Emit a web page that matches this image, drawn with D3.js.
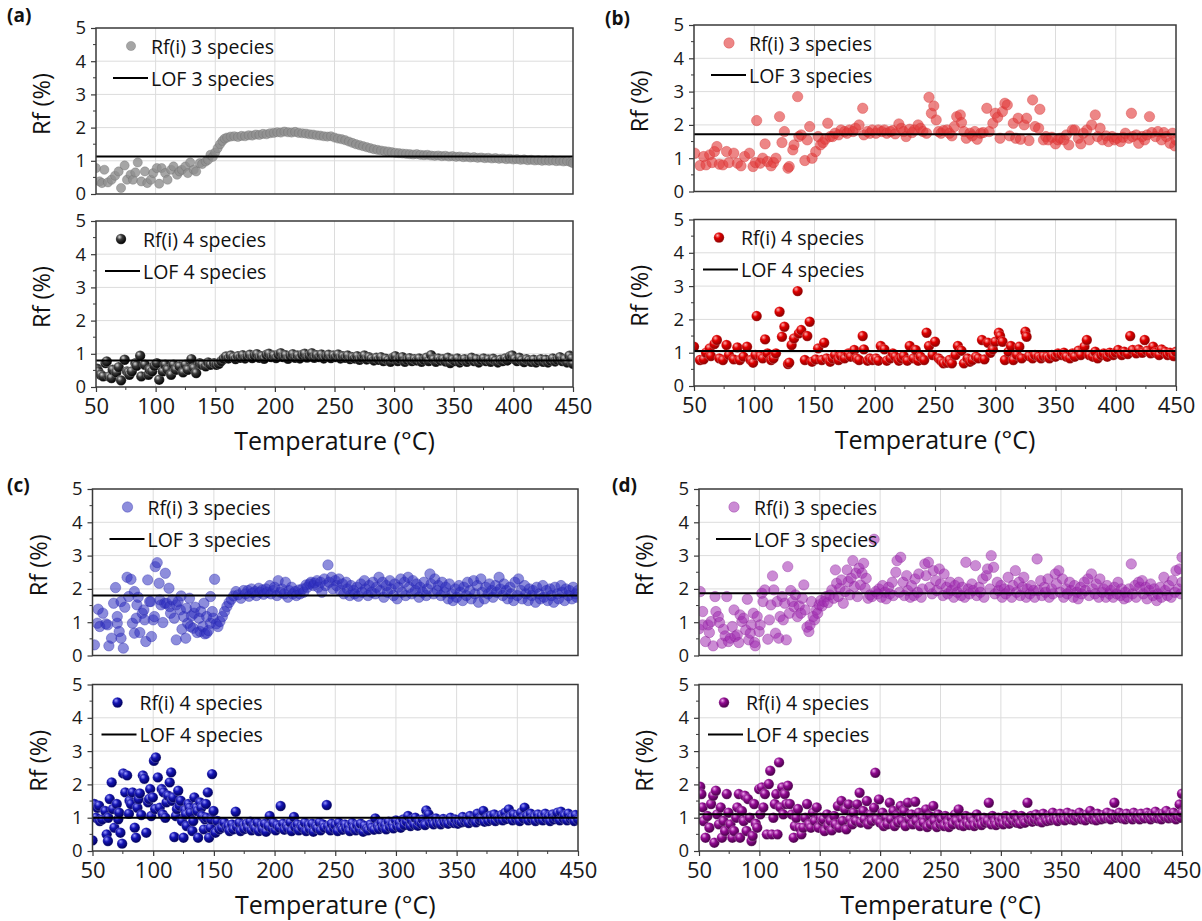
<!DOCTYPE html>
<html><head><meta charset="utf-8">
<script src="https://cdn.jsdelivr.net/npm/d3@7"></script>
<style>
body{margin:0;background:#fff;}
svg{display:block;font-family:"Open Sans",sans-serif;}
</style></head>
<body><svg id="chart" width="1202" height="921"></svg>
<script>
// ---------------- DATA ----------------
const xTicks = [50,100,150,200,250,300,350,400,450];
const xMinor = [75,125,175,225,275,325,375,425];
const yTicks = [0,1,2,3,4,5];
const yMinor = [0.5,1.5,2.5,3.5,4.5];
const panelLabels = ["(a)","(b)","(c)","(d)"];
const speciesLabels = ["3 species","4 species"];
// LOF values [3 species, 4 species] per panel
const lofA = [1.13, 0.80];
const lofB = [1.72, 1.05];
const lofC = [1.80, 1.00];
const lofD = [1.87, 1.10];

// Panel (a) 3 species
const a3 = [[50,0.78],[53,0.38],[55,0.33],[57,0.73],[60,0.35],[63,0.43],[66,0.55],[69,0.68],[71,0.18],[74,0.86],[76,0.43],[79,0.58],[81,0.43],[83,0.65],[85,0.95],[88,0.38],[91,0.68],[93,0.33],[96,0.43],[98,0.63],[101,0.78],[103,0.31],[105,0.78],[108,0.63],[110,0.43],[113,0.73],[115,0.83],[118,0.58],[120,0.68],[122,0.73],[125,0.83],[127,0.63],[129,0.95],[132,0.73],[134,0.68],[137,0.93],[139,0.9],[142,0.98],[144,1.03],[146,1.18],[148,1.12],[150,1.25],[152,1.38],[154,1.5],[156,1.6],[158,1.67],[160,1.7],[163,1.73],[166,1.74],[169,1.72],[172,1.75],[175,1.74],[178,1.77],[181,1.76],[184,1.79],[187,1.78],[190,1.81],[193,1.8],[196,1.83],[199,1.84],[202,1.86],[205,1.85],[208,1.88],[211,1.86],[214,1.85],[217,1.87],[220,1.84],[223,1.83],[226,1.82],[229,1.8],[232,1.79],[235,1.77],[238,1.76],[241,1.74],[244,1.73],[247,1.74],[250,1.7],[253,1.67],[256,1.65],[259,1.62],[262,1.58],[265,1.54],[268,1.5],[271,1.47],[274,1.44],[277,1.41],[280,1.38],[283,1.35],[286,1.33],[289,1.31],[292,1.29],[295,1.28],[298,1.26],[301,1.24],[304,1.23],[307,1.22],[310,1.21],[313,1.2],[316,1.19],[319,1.2],[322,1.18],[325,1.17],[328,1.18],[331,1.16],[334,1.15],[337,1.16],[340,1.14],[343,1.15],[346,1.13],[349,1.14],[352,1.12],[355,1.13],[358,1.11],[361,1.12],[364,1.1],[367,1.11],[370,1.09],[373,1.1],[376,1.08],[379,1.09],[382,1.07],[385,1.08],[388,1.06],[391,1.07],[394,1.05],[397,1.06],[400,1.04],[403,1.05],[406,1.03],[409,1.04],[412,1.02],[415,1.03],[418,1.01],[421,1.02],[424,1.0],[427,1.01],[430,1.0],[433,1.01],[436,0.99],[439,1.0],[442,0.98],[445,0.99],[448,0.96],[450,0.93]];

// Panel (a) 4 species
const a4 = [[51,0.55],[52,0.47],[54,0.37],[56,0.32],[58,0.72],[59,0.77],[61,0.32],[63,0.27],[64,0.52],[67,0.44],[69,0.6],[71,0.2],[74,0.82],[76,0.47],[77,0.44],[78,0.37],[80,0.47],[83,0.72],[84,0.64],[87,0.94],[88,0.32],[91,0.67],[94,0.37],[95,0.52],[97,0.47],[99,0.64],[101,0.72],[103,0.22],[106,0.47],[108,0.67],[110,0.52],[113,0.37],[115,0.67],[117,0.52],[120,0.62],[123,0.44],[125,0.67],[127,0.52],[130,0.84],[132,0.57],[134,0.42],[137,0.72],[139,0.67],[142,0.62],[144,0.74],[146,0.67],[149,0.72],[151,0.67],[153,0.7],[155,0.78],[157,0.85],[159,0.92],[161,0.86],[163,0.95],[165,0.9],[167,0.84],[169,0.93],[171,0.88],[173,0.96],[175,0.86],[177,0.92],[179,0.97],[181,0.87],[183,0.95],[185,0.99],[187,0.88],[189,0.93],[191,0.85],[193,0.97],[195,1.0],[197,0.9],[199,0.95],[201,0.87],[203,0.98],[205,1.02],[207,0.9],[209,0.96],[211,0.85],[213,0.94],[215,0.99],[217,0.88],[219,0.95],[221,0.86],[223,0.97],[225,1.0],[227,0.89],[229,0.94],[231,1.02],[233,0.88],[235,0.96],[237,0.9],[239,0.98],[241,0.86],[243,0.93],[245,0.97],[247,0.87],[249,0.95],[251,0.9],[253,0.98],[255,0.86],[257,0.93],[259,0.88],[261,0.95],[263,0.84],[265,0.9],[267,0.86],[269,0.93],[271,0.82],[273,0.88],[275,0.95],[277,0.83],[279,0.9],[281,0.85],[283,0.8],[285,0.88],[287,0.82],[289,0.9],[291,0.78],[293,0.85],[295,0.8],[297,0.76],[299,0.88],[301,0.93],[303,0.78],[305,0.85],[307,0.9],[309,0.76],[311,0.82],[313,0.87],[315,0.78],[317,0.84],[319,0.8],[321,0.86],[323,0.76],[325,0.82],[327,0.88],[329,0.78],[331,0.96],[333,0.83],[335,0.76],[337,0.86],[339,0.8],[341,0.84],[343,0.77],[345,0.88],[347,0.72],[349,0.83],[351,0.78],[353,0.86],[355,0.74],[357,0.8],[359,0.84],[361,0.76],[363,0.82],[365,0.88],[367,0.78],[369,0.84],[371,0.74],[373,0.82],[375,0.86],[377,0.78],[379,0.83],[381,0.76],[383,0.85],[385,0.79],[387,0.74],[389,0.82],[391,0.78],[393,0.86],[395,0.8],[397,0.92],[399,0.95],[401,0.84],[403,0.78],[405,0.88],[407,0.8],[409,0.75],[411,0.84],[413,0.8],[415,0.76],[417,0.82],[419,0.74],[421,0.8],[423,0.84],[425,0.76],[427,0.82],[429,0.74],[431,0.8],[433,0.86],[435,0.77],[437,0.82],[439,0.9],[441,0.78],[443,0.84],[445,0.74],[447,0.94],[449,0.86],[450,0.7]];

// Panel (b) 3 species
const b3 = [[50.6,1.15],[55,0.78],[58,1.05],[60,0.8],[63,1.1],[65,0.87],[67,1.2],[69,1.35],[71,0.82],[74,0.8],[77,1.2],[79,0.87],[83,1.15],[86,0.85],[89,0.77],[92,1.05],[96,1.15],[99,0.75],[101,0.87],[102,2.13],[105,0.85],[107,1.0],[109,1.43],[111,0.9],[114,0.77],[116,0.87],[118,1.0],[121,2.25],[123,1.47],[125,1.8],[128,0.7],[129,0.75],[132,1.25],[133,1.4],[136,2.85],[137,1.65],[139,1.7],[142,0.93],[144,1.55],[146,1.95],[148,1.0],[151,1.2],[153,1.65],[155,1.4],[157,1.47],[159,1.57],[161,2.05],[163,1.65],[165,1.65],[167,1.75],[170,1.7],[172,1.85],[175,1.8],[177,1.75],[179,1.85],[182,1.8],[184,1.9],[187,2.0],[190,2.5],[191,1.7],[194,1.8],[196,1.75],[198,1.85],[201,1.75],[203,1.85],[206,1.8],[208,1.85],[210,1.75],[213,1.8],[215,1.83],[217,1.73],[220,2.03],[222,1.9],[224,1.8],[226,1.65],[229,1.87],[231,1.77],[233,1.85],[236,2.0],[238,1.9],[240,1.8],[243,1.75],[245,2.83],[247,2.35],[249,2.57],[251,2.15],[253,1.8],[255,1.75],[257,1.83],[260,1.85],[262,1.75],[264,1.67],[266,1.95],[268,2.25],[271,2.3],[272,2.07],[274,1.8],[276,1.6],[279,1.75],[281,1.67],[283,1.8],[285,1.57],[288,1.75],[290,1.77],[293,2.5],[295,1.8],[298,2.05],[300,2.35],[302,2.23],[304,1.6],[306,2.4],[308,2.65],[310,2.6],[312,1.67],[315,2.05],[317,1.6],[319,2.2],[321,1.57],[324,2.0],[326,2.2],[328,1.53],[331,2.75],[333,1.95],[336,1.9],[337,2.47],[340,1.55],[342,1.65],[344,1.55],[347,1.63],[350,1.43],[352,1.55],[354,1.6],[357,1.55],[359,1.7],[361,1.4],[364,1.85],[366,1.85],[369,1.6],[371,1.43],[373,1.75],[376,1.85],[378,1.55],[380,2.0],[383,2.3],[385,1.65],[387,1.9],[389,1.55],[392,1.67],[394,1.5],[397,1.65],[399,1.55],[401,1.6],[404,1.5],[406,1.63],[408,1.75],[411,1.6],[413,2.35],[414,1.65],[417,1.7],[419,1.45],[422,1.65],[424,1.55],[426,1.7],[428,2.25],[430,1.77],[433,1.65],[435,1.8],[438,1.55],[440,1.77],[442,1.65],[445,1.45],[447,1.75],[449,1.37],[450,1.55]];

// Panel (b) 4 species
const b4 = [[50,1.18],[55,0.78],[58,0.8],[60,1.0],[63,1.13],[64,0.9],[67,1.26],[69,1.38],[71,0.83],[74,0.78],[77,1.23],[79,0.93],[83,0.8],[86,1.16],[88,0.78],[91,0.88],[94,1.18],[97,0.78],[99,0.7],[101,0.93],[102,2.1],[105,0.9],[107,0.83],[109,1.4],[111,0.98],[114,0.78],[116,0.83],[118,0.98],[121,2.23],[123,1.48],[125,1.78],[128,0.66],[129,0.7],[131,1.23],[133,1.43],[136,2.85],[137,1.58],[139,1.68],[142,0.78],[144,1.5],[146,1.93],[148,0.73],[151,0.8],[153,1.13],[156,0.78],[158,1.3],[160,0.83],[163,0.73],[165,0.83],[167,0.93],[170,0.78],[172,0.9],[175,0.83],[178,0.98],[180,0.88],[183,1.08],[185,0.83],[187,0.78],[190,1.5],[191,1.1],[194,0.76],[196,0.83],[198,0.78],[201,0.83],[203,0.76],[205,1.2],[208,1.1],[210,0.76],[213,0.83],[215,0.98],[217,0.88],[220,0.76],[222,0.83],[224,0.9],[227,0.76],[229,1.2],[232,0.83],[234,1.08],[236,0.76],[238,0.88],[241,0.78],[243,1.6],[245,1.2],[248,0.93],[250,1.33],[253,0.83],[255,0.76],[257,0.68],[260,0.7],[262,0.78],[264,0.68],[267,0.93],[269,1.2],[272,1.06],[274,0.68],[277,0.83],[279,0.73],[281,0.78],[284,0.88],[286,0.83],[289,1.38],[291,0.8],[294,1.3],[296,1.0],[298,1.1],[300,1.33],[303,1.6],[304,1.5],[306,1.33],[308,0.78],[311,1.03],[313,1.2],[315,0.78],[318,0.93],[320,1.18],[322,0.83],[325,1.63],[326,1.48],[328,0.9],[331,0.83],[333,0.93],[336,0.88],[338,0.83],[340,0.9],[343,0.88],[345,0.83],[347,0.93],[350,0.88],[352,0.98],[355,0.93],[357,1.0],[359,0.88],[362,0.83],[364,0.98],[366,0.88],[369,1.06],[371,0.93],[374,1.18],[376,1.38],[378,0.93],[381,0.88],[383,1.03],[385,0.83],[388,0.93],[390,0.98],[393,0.88],[395,1.0],[398,0.93],[400,1.0],[402,1.08],[405,0.93],[407,1.03],[410,0.96],[412,1.5],[414,1.08],[417,0.98],[419,1.1],[422,1.0],[424,1.38],[426,1.06],[429,0.98],[431,1.18],[433,1.0],[436,0.93],[438,1.1],[441,1.03],[443,0.93],[445,1.0],[448,0.9],[450,1.03]];

// Panel (c) 3 species
const c3 = [[51.6,0.32],[54.7,1.39],[54,0.97],[56,0.87],[58.5,1.27],[61,0.95],[62.5,0.92],[63.5,0.29],[65.7,0.52],[67.4,1.57],[69,2.04],[70.4,1.17],[70.4,0.97],[72,0.72],[73.5,0.52],[73.5,1.62],[75.4,0.22],[76.6,1.45],[78.5,2.35],[79.8,1.77],[81.7,2.29],[82.9,0.97],[84.5,0.67],[84.5,1.92],[86,1.12],[86.6,1.52],[87.6,1.75],[89,0.69],[91,1.27],[92.3,1.37],[93,1.07],[93.9,0.42],[95.5,2.27],[97,1.62],[98,1.62],[98.6,0.57],[100,1.07],[101,1.17],[101.7,2.67],[103.3,2.79],[104.9,2.17],[105.5,1.67],[106.4,1.52],[108,0.99],[109.5,1.57],[110,2.47],[111.1,1.57],[113,2.02],[113.7,1.47],[114.3,1.27],[115.8,1.67],[117.4,1.12],[119,0.47],[119,1.52],[120.5,1.62],[122.4,1.37],[123,1.79],[123.7,0.79],[125.2,1.17],[126.8,0.52],[127.4,1.42],[128.4,0.97],[129.9,1.72],[130.6,0.87],[131.5,1.19],[133,0.82],[133.7,1.27],[134.6,1.45],[136.2,0.69],[137.8,1.12],[138.7,0.72],[139.3,1.32],[140.9,0.87],[141.8,1.57],[142.5,0.65],[144,1.17],[144,0.67],[145.6,0.75],[147.2,1.77],[147.2,0.97],[148.7,1.32],[149.4,1.12],[150.6,2.29],[152,0.95],[153.4,0.87],[155,1.02],[157,1.17],[158.8,1.32],[160.7,1.47],[162.5,1.59],[164.4,1.69],[166.3,1.79],[168.2,1.92],[170,1.82],[172.3,1.72],[174.5,1.95],[176,1.85],[178,1.95],[179,1.78],[181,2.0],[182,1.88],[184,1.92],[185,1.8],[187,2.02],[188,1.9],[190,1.97],[191,1.84],[193,2.0],[194,1.9],[196,2.1],[197,1.85],[199,1.95],[200,2.05],[202,1.8],[203,2.25],[205,1.9],[206,2.0],[208,1.85],[209,2.2],[211,1.75],[212,1.95],[214,2.05],[215,1.85],[217,1.92],[218,1.8],[220,1.97],[221,1.85],[223,2.0],[224,1.9],[226,2.12],[227,2.05],[229,2.15],[230,2.2],[232,2.1],[233,2.18],[235,2.25],[236,2.05],[238,2.2],[239,1.9],[241,2.3],[242,2.1],[244,2.72],[245,2.2],[247,2.35],[248,2.0],[250,2.25],[251,2.1],[253,2.3],[254,1.95],[256,2.15],[257,1.85],[259,2.2],[260,2.0],[262,1.8],[263,2.1],[265,1.95],[266,1.85],[268,2.05],[269,1.78],[271,2.15],[272,1.9],[274,2.25],[275,2.0],[277,1.8],[278,2.1],[280,1.9],[281,2.2],[283,1.85],[284,2.05],[286,2.35],[287,1.95],[289,2.2],[290,1.75],[292,2.1],[293,1.9],[295,2.25],[296,2.0],[298,1.8],[299,2.15],[301,1.7],[302,2.05],[304,2.3],[305,1.9],[307,2.2],[308,1.8],[310,2.35],[311,2.05],[313,1.85],[314,2.25],[316,1.95],[317,2.15],[319,1.75],[320,2.05],[322,1.9],[323,2.2],[325,1.8],[326,2.0],[328,2.45],[329,2.15],[331,1.85],[332,2.3],[334,1.95],[335,2.1],[337,1.8],[338,2.2],[340,1.9],[341,2.05],[343,1.7],[344,2.15],[346,1.85],[347,1.65],[349,2.0],[350,1.75],[352,2.1],[353,1.9],[355,1.65],[356,2.05],[358,1.8],[359,2.2],[361,1.95],[362,1.7],[364,2.25],[365,1.85],[367,2.1],[368,1.6],[370,2.3],[371,1.9],[373,1.7],[374,2.05],[376,1.85],[377,2.15],[379,1.95],[380,1.75],[382,2.1],[383,1.9],[385,2.35],[386,2.0],[388,1.8],[389,2.15],[391,1.95],[392,1.7],[394,2.05],[395,1.85],[397,1.65],[398,2.2],[400,1.8],[401,2.3],[403,1.95],[404,1.7],[406,2.1],[407,1.85],[409,1.65],[410,2.0],[412,1.8],[413,1.95],[415,1.6],[416,2.05],[418,1.85],[419,1.7],[421,2.1],[422,1.75],[424,1.95],[425,1.65],[427,2.0],[428,1.8],[430,1.6],[431,2.05],[433,1.85],[434,1.7],[436,2.1],[437,1.9],[439,1.65],[440,2.0],[442,1.8],[443,1.95],[445,1.7],[446,2.05],[448,1.85],[449,1.75],[450,1.95]];

// Panel (c) 4 species
const c4 = [[50,0.32],[51.6,1.41],[53,1.0],[54,1.3],[55.4,1.36],[56,0.9],[58,0.95],[60.5,1.2],[61.7,0.5],[62.7,0.3],[63,1.0],[64.2,1.56],[65.8,2.06],[66.8,1.26],[68,0.7],[70,1.41],[71.2,0.95],[72,1.15],[73,0.55],[74.4,0.22],[75.3,2.33],[77,1.76],[78.5,2.27],[80,1.12],[80.5,1.51],[81.7,1.41],[83,1.76],[84.8,0.7],[85.8,0.4],[87,1.3],[88,1.56],[89,1.73],[90.2,1.08],[91.5,2.27],[92.7,2.17],[94.3,0.55],[95.8,1.46],[96.6,1.56],[97.5,1.86],[98.4,1.05],[99.7,1.61],[100.6,2.71],[101.6,1.26],[102.2,2.81],[103.8,2.21],[105.4,1.3],[107,1.86],[107.9,1.1],[108.6,1.76],[110,1.0],[111,1.46],[112.3,1.66],[113.6,2.06],[114.8,2.36],[115.4,1.51],[116.4,1.61],[117.4,0.42],[118.7,1.05],[119.6,1.26],[120.6,1.81],[121.8,1.36],[122.7,1.51],[123.7,0.9],[125,0.4],[126.3,1.23],[127,1.1],[127.6,0.75],[129,1.41],[130,1.3],[130.7,1.15],[132.3,0.6],[133,0.9],[133.9,1.61],[135.5,1.3],[136.4,1.2],[137,0.4],[138.7,1.46],[139.6,1.3],[140.3,1.05],[141.8,0.65],[142.7,0.95],[143.4,1.41],[144,1.0],[145,1.76],[146,0.4],[147.2,0.7],[147.8,0.95],[148.5,2.31],[149.7,1.2],[151.3,0.55],[152.9,0.9],[154.5,0.65],[156.7,0.7],[158.6,0.85],[160.8,0.7],[162,0.75],[163,0.6],[165,0.8],[166,0.65],[168,1.18],[169,0.72],[171,0.85],[172,0.6],[174,0.78],[175,0.66],[177,0.82],[178,0.7],[180,0.88],[181,0.62],[183,0.76],[184,0.68],[186,0.85],[187,0.6],[189,0.78],[190,0.66],[192,0.82],[193,0.58],[195,0.75],[196,1.05],[198,0.68],[199,0.85],[201,0.62],[202,0.78],[204,0.7],[205,1.35],[207,0.82],[208,0.64],[210,0.76],[211,0.68],[213,0.86],[214,0.6],[216,1.02],[217,0.72],[219,0.8],[220,0.62],[222,0.76],[223,0.7],[225,0.85],[226,0.6],[228,0.78],[229,0.66],[231,0.82],[232,0.58],[234,0.75],[235,0.68],[237,0.86],[238,0.62],[240,0.8],[241,0.7],[243,1.38],[244,0.74],[246,0.62],[247,0.82],[249,0.68],[250,0.78],[252,0.6],[253,0.85],[255,0.7],[256,0.64],[258,0.8],[259,0.68],[261,0.75],[262,0.6],[264,0.84],[265,0.7],[267,0.62],[268,0.78],[270,0.66],[271,0.82],[273,0.58],[274,0.76],[276,0.68],[277,0.62],[279,0.8],[280,0.7],[282,0.64],[283,0.98],[285,0.75],[286,0.66],[288,0.85],[289,0.7],[291,0.78],[292,0.65],[294,0.88],[295,0.72],[297,0.8],[298,0.68],[300,0.92],[301,0.75],[303,0.85],[304,0.7],[306,0.95],[307,0.78],[309,0.88],[310,1.05],[312,0.75],[313,0.92],[315,0.8],[316,1.0],[318,0.76],[319,0.88],[321,0.82],[322,0.95],[324,0.78],[325,1.22],[327,1.1],[328,0.85],[330,0.92],[331,0.8],[333,0.98],[334,0.84],[336,0.9],[337,0.8],[339,0.96],[340,0.86],[342,0.92],[343,0.82],[345,1.0],[346,0.88],[348,0.84],[349,0.95],[351,0.82],[352,0.9],[354,0.86],[355,1.02],[357,0.88],[358,0.95],[360,0.84],[361,1.05],[363,0.9],[364,0.96],[366,0.86],[367,1.12],[369,0.92],[370,0.98],[372,1.2],[373,0.88],[375,1.0],[376,0.9],[378,1.06],[379,0.94],[381,1.1],[382,0.9],[384,1.0],[385,0.95],[387,1.08],[388,0.92],[390,1.15],[391,0.96],[393,1.25],[394,1.02],[396,0.92],[397,1.1],[399,0.95],[400,1.05],[402,0.9],[403,1.15],[405,0.98],[406,1.3],[408,1.05],[409,0.92],[411,1.12],[412,0.96],[414,1.02],[415,0.9],[417,1.1],[418,0.95],[420,1.05],[421,0.92],[423,1.12],[424,0.98],[426,1.04],[427,0.9],[429,1.1],[430,0.95],[432,1.0],[433,1.15],[435,0.92],[436,1.18],[438,0.98],[439,1.06],[441,0.92],[442,1.12],[444,0.96],[445,1.02],[447,0.9],[448,1.08],[450,0.95]];

// Panel (d) 3 species
const d3s = [[50,0.8],[51,1.92],[53,1.32],[53,0.92],[55.4,0.42],[57.6,0.92],[58.6,0.69],[60,1.02],[61.7,0.29],[63.3,1.77],[64,1.32],[66,1.17],[67,0.99],[69,0.37],[70.3,0.79],[71.6,0.59],[73,1.77],[74.4,0.42],[76,0.52],[77.6,0.87],[79,1.37],[79.8,0.57],[81.7,0.62],[83,0.39],[84,1.22],[85.5,1.02],[87,1.12],[88.7,0.77],[90,1.69],[91.2,0.47],[92.5,0.67],[93.4,0.92],[95,1.27],[96,0.39],[96.6,0.29],[98.2,1.17],[99.8,0.72],[100.7,0.92],[102,1.87],[103,1.62],[104.5,1.97],[107,0.49],[108.3,1.07],[109.6,1.52],[110.9,2.39],[112,1.97],[113.4,0.67],[114.7,1.62],[116,0.52],[117.2,1.17],[118.8,1.77],[119.8,1.07],[121,1.57],[122.3,0.47],[123.5,2.67],[124.8,1.27],[126,1.95],[127.3,1.62],[128.6,1.47],[129.9,1.82],[131.5,1.17],[133,1.49],[134.3,1.27],[135.6,1.72],[136.8,2.12],[138,1.37],[139.4,0.85],[141,0.72],[142,0.92],[143.2,1.62],[144.5,1.17],[145.7,1.07],[147.3,1.37],[148.3,1.27],[149.5,1.52],[150.8,1.65],[152,1.49],[153.6,1.62],[155.2,1.77],[156.8,1.59],[158.4,1.82],[160,1.97],[161.6,1.72],[163,2.57],[164,2.17],[165.4,1.77],[166.6,2.02],[168,2.27],[169.5,1.57],[171,1.92],[172.7,2.57],[173.6,2.22],[174.9,1.82],[176,2.32],[177.4,2.85],[178.7,2.07],[180,2.47],[181.2,1.77],[182.5,2.62],[183.8,2.12],[185,2.47],[186.3,2.77],[187.6,2.02],[188.5,2.32],[190,1.72],[191.7,1.82],[193.3,1.77],[195,3.49],[196.4,1.92],[198,1.85],[199,2.0],[201,1.75],[202,2.1],[204,1.9],[205,1.7],[207,2.05],[208,1.85],[210,2.2],[211,1.8],[213,2.5],[214,2.85],[216,1.9],[217,2.95],[219,2.2],[220,1.8],[222,2.4],[223,1.95],[225,1.75],[226,2.1],[228,1.8],[229,2.3],[231,1.9],[232,2.45],[234,1.75],[235,2.0],[237,2.75],[238,2.4],[240,2.8],[241,2.05],[243,1.85],[244,2.55],[246,2.25],[247,1.95],[249,2.6],[250,2.15],[252,1.8],[253,2.45],[255,2.05],[256,1.85],[258,2.2],[259,1.95],[261,1.75],[262,2.1],[264,1.9],[265,2.2],[267,1.8],[268,2.05],[270,1.75],[271,2.8],[273,2.0],[274,1.85],[276,2.15],[277,1.95],[279,2.7],[280,1.8],[282,2.05],[283,1.9],[285,2.3],[286,1.75],[288,2.4],[289,2.6],[291,2.0],[292,3.0],[294,2.65],[295,1.85],[297,2.2],[298,1.95],[300,2.1],[301,1.75],[303,2.0],[304,1.85],[306,2.35],[307,1.95],[309,1.75],[310,2.1],[312,2.55],[313,1.9],[315,2.2],[316,1.8],[318,2.05],[319,2.35],[321,1.75],[322,2.0],[324,1.85],[325,2.1],[327,1.95],[328,1.75],[330,2.9],[331,1.95],[333,2.25],[334,1.8],[336,2.05],[337,1.9],[339,2.3],[340,1.75],[342,2.0],[343,1.85],[345,2.45],[346,2.15],[348,2.55],[349,1.9],[351,2.3],[352,1.75],[354,2.0],[355,1.85],[357,2.2],[358,1.95],[360,1.75],[361,2.1],[363,1.9],[364,1.7],[366,2.05],[367,1.85],[369,2.2],[370,1.95],[372,2.3],[373,1.8],[375,2.45],[376,2.0],[378,1.85],[379,2.15],[381,1.75],[382,2.3],[384,1.9],[385,2.0],[387,1.75],[388,2.1],[390,1.85],[391,1.95],[393,1.75],[394,2.05],[396,1.85],[397,2.2],[399,1.8],[400,2.0],[402,1.7],[403,1.9],[405,1.75],[406,2.0],[408,2.75],[409,1.85],[411,2.1],[412,1.75],[414,2.2],[415,2.05],[417,2.25],[418,1.85],[420,2.05],[421,1.7],[423,1.95],[424,2.15],[426,1.8],[427,2.0],[429,1.65],[430,1.85],[432,2.05],[433,1.75],[435,2.35],[436,1.95],[438,1.8],[439,2.1],[441,1.75],[442,2.25],[444,1.9],[445,2.55],[447,2.0],[448,2.6],[449,1.85],[450,2.95],[450,2.2]];

// Panel (d) 4 species
const d4 = [[51,1.93],[52,1.71],[53,1.31],[53.8,0.9],[55.4,0.4],[57,1.05],[58.6,0.7],[60,1.41],[61.7,1.66],[62.7,0.25],[64,1.81],[65,1.1],[66.5,0.8],[68,1.31],[69,0.4],[70.3,0.9],[71.6,0.6],[73,1.71],[74.4,1.15],[76,0.8],[77.6,0.4],[79,0.6],[80.8,1.0],[81.7,1.31],[83,1.71],[84,0.4],[85.5,1.2],[87,0.9],[88,1.66],[89.4,0.6],[90.6,1.56],[92,1.0],[93.5,0.3],[94.4,0.45],[95.7,1.41],[97,0.82],[98.2,0.7],[99.8,1.86],[100.8,1.1],[102,1.91],[103.3,1.31],[104.6,1.71],[106.2,0.5],[107.8,2.01],[109,2.41],[110.3,0.5],[111.6,1.0],[112.8,1.41],[114,1.71],[115,0.5],[116.3,2.66],[117.3,1.31],[118.9,1.91],[119.8,1.1],[121,1.71],[122.3,1.41],[123.6,1.96],[125.2,1.41],[126.8,1.1],[128.4,0.4],[129.4,0.75],[130.6,1.0],[131.9,1.26],[133.2,0.7],[134.8,0.5],[136.3,0.7],[138,1.0],[139.5,1.41],[141.1,0.8],[142.7,0.7],[144.3,1.15],[145.9,0.9],[147.5,1.31],[149,0.7],[150.6,1.0],[152.2,0.9],[153,0.95],[154,0.6],[156,1.1],[157,0.75],[159,0.9],[160,0.62],[162,1.05],[163,0.8],[165,1.35],[166,0.7],[168,1.5],[169,0.9],[171,1.25],[172,0.65],[174,1.4],[175,0.95],[177,0.8],[178,1.15],[180,0.9],[181,1.4],[183,1.75],[184,0.85],[186,1.2],[187,0.95],[189,1.5],[190,0.8],[192,1.1],[193,0.9],[195,1.3],[196,2.35],[197,0.95],[199,1.55],[200,0.85],[202,1.15],[203,0.75],[205,1.0],[206,0.8],[208,1.45],[209,0.95],[211,1.2],[212,0.75],[214,1.05],[215,0.85],[217,1.35],[218,0.9],[220,1.2],[221,0.75],[223,1.45],[224,0.95],[226,1.1],[227,0.8],[229,1.48],[230,0.9],[232,1.15],[233,0.75],[235,1.0],[236,0.85],[238,1.25],[239,0.72],[241,1.05],[242,0.8],[244,1.35],[245,0.9],[247,0.72],[248,1.1],[250,0.8],[251,0.95],[253,0.75],[254,1.05],[256,0.85],[257,0.72],[259,1.0],[260,0.8],[262,1.1],[263,0.9],[265,1.25],[266,0.78],[268,0.95],[269,0.75],[271,1.05],[272,0.85],[274,0.78],[275,1.0],[277,0.9],[278,0.75],[280,1.1],[281,0.82],[283,0.95],[284,0.78],[286,1.0],[287,0.85],[289,0.9],[290,1.45],[292,0.8],[293,1.05],[295,0.88],[296,0.78],[298,1.0],[299,0.85],[301,0.95],[302,0.8],[304,1.05],[305,0.88],[307,0.82],[308,1.0],[310,0.9],[311,1.08],[313,0.85],[314,0.95],[316,0.82],[317,1.05],[319,0.9],[320,0.85],[322,1.45],[323,0.95],[325,1.05],[326,0.88],[328,0.95],[329,1.1],[331,0.9],[332,1.0],[334,0.86],[335,1.12],[337,0.95],[338,0.9],[340,1.05],[341,0.92],[343,1.15],[344,0.95],[346,1.0],[347,0.9],[349,1.12],[350,0.95],[352,1.05],[353,0.92],[355,1.15],[356,1.0],[358,0.95],[359,1.1],[361,0.92],[362,1.05],[364,0.98],[365,1.15],[367,0.95],[368,1.05],[370,0.92],[371,1.1],[373,1.0],[374,1.2],[376,0.95],[377,1.05],[379,0.92],[380,1.12],[382,1.0],[383,0.95],[385,1.08],[386,0.98],[388,1.15],[389,1.0],[391,0.95],[392,1.1],[394,1.45],[395,1.0],[397,1.05],[398,1.15],[400,0.98],[401,1.08],[403,0.95],[404,1.12],[406,1.0],[407,1.05],[409,0.95],[410,1.15],[412,1.0],[413,1.08],[415,0.95],[416,1.12],[418,1.02],[419,0.98],[421,1.15],[422,1.05],[424,0.95],[425,1.1],[427,1.0],[428,1.18],[430,0.98],[431,1.08],[433,0.95],[434,1.12],[436,1.02],[437,1.2],[439,0.98],[440,1.1],[442,1.0],[443,1.15],[445,0.95],[446,1.05],[448,1.4],[449,1.0],[450,1.72],[450,1.15]];

// ---------------- LAYOUT / STYLE ----------------
const styles = {
  a3:{type:"flat", fill:"#8e8e8e", op:0.8, stroke:"#6a6a6a", r:4.6},
  a4:{type:"ball", c0:"#d8d8d8", c1:"#3a3a3a", c2:"#000000", r:5.2},
  b3:{type:"flat", fill:"#e23c3c", op:0.62, stroke:"#d23030", r:5.2},
  b4:{type:"ball", c0:"#ffb0b0", c1:"#e00000", c2:"#8a0000", r:5.2},
  c3:{type:"flat", fill:"#3030c0", op:0.55, stroke:"#2626a8", r:5.2},
  c4:{type:"ball", c0:"#9a9aff", c1:"#1515b5", c2:"#00005a", r:5.2},
  d3:{type:"flat", fill:"#a02cb0", op:0.55, stroke:"#8a2098", r:5.2},
  d4:{type:"ball", c0:"#f0a8f0", c1:"#900a90", c2:"#480048", r:5.2}
};

const panels = [
  {label:panelLabels[0], lx:7, ly:22, left:96, right:573,
   plots:[{top:28,bottom:194,data:a3,lof:lofA[0],key:"a3"},{top:221,bottom:387,data:a4,lof:lofA[1],key:"a4"}]},
  {label:panelLabels[1], lx:605, ly:25, left:694, right:1176,
   plots:[{top:25,bottom:191.5,data:b3,lof:lofB[0],key:"b3"},{top:219.5,bottom:386,data:b4,lof:lofB[1],key:"b4"}]},
  {label:panelLabels[2], lx:7, ly:492, left:92.5, right:578,
   plots:[{top:489,bottom:655.5,data:c3,lof:lofC[0],key:"c3"},{top:684.5,bottom:851,data:c4,lof:lofC[1],key:"c4"}]},
  {label:panelLabels[3], lx:612, ly:492, left:699, right:1182,
   plots:[{top:489,bottom:655.5,data:d3s,lof:lofD[0],key:"d3"},{top:684.5,bottom:851,data:d4,lof:lofD[1],key:"d4"}]}
];

const svg = d3.select("#chart");
const defs = svg.append("defs");

// ball gradients
Object.entries(styles).forEach(([k,s])=>{
  if(s.type==="ball"){
    const g = defs.append("radialGradient").attr("id","grad-"+k)
      .attr("cx","38%").attr("cy","35%").attr("r","65%").attr("fx","35%").attr("fy","30%");
    g.append("stop").attr("offset","0%").attr("stop-color",s.c0);
    g.append("stop").attr("offset","40%").attr("stop-color",s.c1);
    g.append("stop").attr("offset","100%").attr("stop-color",s.c2);
  }
});

function styleDots(sel, s, key){
  if(s.type==="flat"){
    sel.attr("fill",s.fill).attr("fill-opacity",s.op)
       .attr("stroke",s.stroke).attr("stroke-opacity",0.5).attr("stroke-width",0.7);
  } else {
    sel.attr("fill","url(#grad-"+key+")").attr("stroke","#ffffff").attr("stroke-opacity",0.35).attr("stroke-width",0.6);
  }
}

panels.forEach((p,pi)=>{
  const g = svg.append("g");
  g.append("text").attr("x",p.lx).attr("y",p.ly).text(p.label)
    .attr("font-size",19).attr("font-weight","bold").attr("fill","#111");

  p.plots.forEach((pl,qi)=>{
    const x = d3.scaleLinear().domain([50,450]).range([p.left,p.right]);
    const y = d3.scaleLinear().domain([0,5]).range([pl.bottom,pl.top]);
    const s = styles[pl.key];
    const clipId = "clip-"+pi+"-"+qi;
    defs.append("clipPath").attr("id",clipId).append("rect")
      .attr("x",p.left).attr("y",pl.top).attr("width",p.right-p.left).attr("height",pl.bottom-pl.top);

    // grid
    g.append("g").selectAll("line.v").data(xTicks.slice(1,-1)).join("line")
      .attr("x1",d=>x(d)).attr("x2",d=>x(d)).attr("y1",pl.top).attr("y2",pl.bottom)
      .attr("stroke","#dcdcdc").attr("stroke-width",1);
    g.append("g").selectAll("line.h").data(yTicks.slice(1,-1)).join("line")
      .attr("x1",p.left).attr("x2",p.right).attr("y1",d=>y(d)).attr("y2",d=>y(d))
      .attr("stroke","#dcdcdc").attr("stroke-width",1);

    // dots
    const dots = g.append("g").attr("clip-path","url(#"+clipId+")")
      .selectAll("circle").data(pl.data).join("circle")
      .attr("cx",d=>x(d[0])).attr("cy",d=>y(d[1])).attr("r",s.r);
    styleDots(dots,s,pl.key);

    // LOF line
    g.append("line").attr("x1",p.left).attr("x2",p.right)
      .attr("y1",y(pl.lof)).attr("y2",y(pl.lof))
      .attr("stroke","#000").attr("stroke-width",2);

    // frame
    g.append("rect").attr("x",p.left).attr("y",pl.top)
      .attr("width",p.right-p.left).attr("height",pl.bottom-pl.top)
      .attr("fill","none").attr("stroke","#3a3a3a").attr("stroke-width",1.5);

    // y axis
    const ya = g.append("g").attr("transform",`translate(${p.left},0)`)
      .call(d3.axisLeft(y).tickValues(yTicks).tickSize(5).tickPadding(5).tickFormat(d3.format("d")));
    ya.select(".domain").remove();
    ya.selectAll(".tick line").attr("stroke","#3a3a3a").attr("stroke-width",1.2);
    ya.selectAll(".tick text").attr("font-size",18.5).attr("fill","#1a1a1a")
      .attr("font-family","'Open Sans',sans-serif");
    g.append("g").selectAll("line").data(yMinor).join("line")
      .attr("x1",p.left-3).attr("x2",p.left).attr("y1",d=>y(d)).attr("y2",d=>y(d))
      .attr("stroke","#3a3a3a").attr("stroke-width",1);

    // y title
    const cy = (pl.top+pl.bottom)/2 - 7;
    g.append("text").attr("transform",`translate(${p.left-55},${cy}) rotate(-90)`)
      .attr("text-anchor","middle").attr("dominant-baseline","central")
      .attr("font-size",23.5).attr("fill","#111").text("Rf (%)");

    // x axis on lower plot
    if(qi===1){
      const xa = g.append("g").attr("transform",`translate(0,${pl.bottom})`)
        .call(d3.axisBottom(x).tickValues(xTicks).tickSize(5).tickPadding(6).tickFormat(d3.format("d")));
      xa.select(".domain").remove();
      xa.selectAll(".tick line").attr("stroke","#3a3a3a").attr("stroke-width",1.2);
      xa.selectAll(".tick text").attr("font-size",22).attr("fill","#1a1a1a")
        .attr("font-family","'Open Sans',sans-serif");
      g.append("g").selectAll("line").data(xMinor).join("line")
        .attr("x1",d=>x(d)).attr("x2",d=>x(d)).attr("y1",pl.bottom).attr("y2",pl.bottom+3)
        .attr("stroke","#3a3a3a").attr("stroke-width",1);
      g.append("text").attr("x",(p.left+p.right)/2).attr("y",pl.bottom+63)
        .attr("text-anchor","middle").attr("font-size",25).attr("fill","#111")
        .text("Temperature (°C)");
    }

    // legend
    const mX = qi===0 ? 35 : 25, tX = qi===0 ? 55 : 47, l1 = qi===0 ? 17 : 9, l2 = qi===0 ? 52 : 44;
    const lm = g.append("circle").attr("cx",p.left+mX).attr("cy",pl.top+18).attr("r",s.r);
    styleDots(lm,s,pl.key);
    g.append("text").attr("x",p.left+tX).attr("y",pl.top+18).attr("dominant-baseline","central")
      .attr("font-size",19.5).attr("fill","#111").text("Rf(i) "+speciesLabels[qi]);
    g.append("line").attr("x1",p.left+l1).attr("x2",p.left+l2)
      .attr("y1",pl.top+50).attr("y2",pl.top+50).attr("stroke","#000").attr("stroke-width",2);
    g.append("text").attr("x",p.left+tX).attr("y",pl.top+50).attr("dominant-baseline","central")
      .attr("font-size",19.5).attr("fill","#111").text("LOF "+speciesLabels[qi]);
  });
});
</script>
</body></html>
